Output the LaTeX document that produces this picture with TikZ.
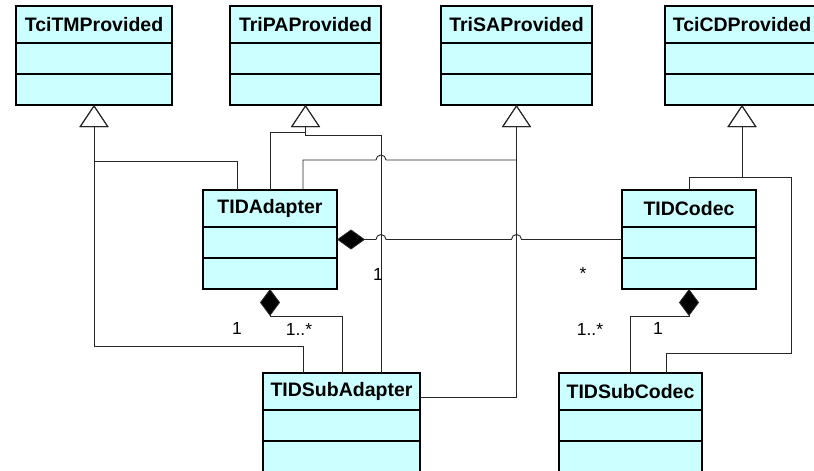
\documentclass[tikz,border=0pt]{standalone}
\usepackage{fontspec}
\setmainfont{Liberation Sans}
\usetikzlibrary{arrows.meta}

\definecolor{classfill}{HTML}{CCFFFF}

% class box: name, top-left corner, width, title
\newcommand{\umlclass}[4]{%
  \node[classbox, minimum width=#3pt, anchor=north west] (#1) at (#2) {};
  \draw[divider] ([yshift=-37pt]#1.north west) -- ([yshift=-37pt]#1.north east);
  \draw[divider] ([yshift=-68pt]#1.north west) -- ([yshift=-68pt]#1.north east);
  \node[classtitle] (#1-t) at ([yshift=-18.5pt]#1.north) {#4};
}

\begin{document}
\begin{tikzpicture}[x=1pt, y=-1pt,
    classbox/.style={draw=black, line width=1.6pt, fill=classfill,
      minimum height=99pt, inner sep=0pt, outer sep=0pt},
    divider/.style={line width=1.3pt},
    classtitle/.style={font=\bfseries\fontsize{19.5}{22}\selectfont, inner sep=0pt},
    conn/.style={draw=black!85, line width=0.9pt},
    inherit/.style={-{Triangle[open, width=29pt, length=22pt, line width=1pt]}},
    compose/.style={{Diamond[width=20pt, length=28pt, fill=black]}-},
    mult/.style={font=\fontsize{17.5}{20}\selectfont, inner sep=0pt, anchor=base}]
      \path[fill=white, use as bounding box] (0,0) rectangle (814,471);
      % Draw the classes
      \umlclass{tcitm}{16,6}{156}{TciTMProvided}
      \umlclass{tripa}{230,6}{151}{TriPAProvided}
      \umlclass{trisa}{441,6}{151}{TriSAProvided}
      \umlclass{tcicd}{665,6}{154}{TciCDProvided}
      \umlclass{adapter}{203,190}{134}{TIDAdapter}
      \umlclass{codec}{622,190}{134}{TIDCodec}
      \umlclass{subadapter}{263,373}{157}{TIDSubAdapter}
      \umlclass{subcodec}{559,373}{143}{TIDSubCodec}
      % Draw the generalizations
      \draw[conn, inherit] ([xshift=34pt]adapter.north west) |- (tcitm.south |- 0,161) -- (tcitm.south);
      \draw[conn, inherit] ([xshift=40pt]subadapter.north west) |- (tcitm.south |- 0,346) -- (tcitm.south);
      \draw[conn, inherit] (adapter.north) |- (tripa.south |- 0,132) -- (tripa.south);
      \draw[conn, inherit] ([xshift=118pt]subadapter.north west) |- (tripa.south |- 0,135) -- (tripa.south);
      \draw[conn, inherit] ([xshift=100pt]adapter.north west) |- (376,160)
        arc[start angle=180, end angle=0, radius=5pt] -- (trisa.south |- 0,160) -- (trisa.south);
      \draw[conn, inherit] ([yshift=-24pt]subadapter.north east) -| (trisa.south);
      \draw[conn, inherit] (codec.north) |- (tcicd.south |- 0,177) -- (tcicd.south);
      \draw[conn, inherit] ([xshift=107pt]subcodec.north west) |- (791,353) |- (tcicd.south |- 0,177) -- (tcicd.south);
      % Draw the associations
      \draw[conn, compose] (adapter.east) -- (376,239.5)
        arc[start angle=180, end angle=0, radius=5pt] -- (511.5,239.5)
        arc[start angle=180, end angle=0, radius=5pt] -- (codec.west);
      \draw[conn, {Diamond[width=20pt, length=27pt, fill=black]}-] (adapter.south) -- (adapter.south |- 0,316) -| ([xshift=79pt]subadapter.north west);
      \draw[conn, {Diamond[width=20pt, length=27pt, fill=black]}-] (codec.south) -- (codec.south |- 0,316) -| ([xshift=71pt]subcodec.north west);
      % Draw the multiplicities
      \node[mult] (m1) at (378,280) {1};
      \node[mult] (m2) at (583,279) {*};
      \node[mult] (m3) at (237,334) {1};
      \node[mult] (m4) at (299,335) {1..*};
      \node[mult] (m5) at (658,334) {1};
      \node[mult] (m6) at (590,335) {1..*};
\end{tikzpicture}
\end{document}
